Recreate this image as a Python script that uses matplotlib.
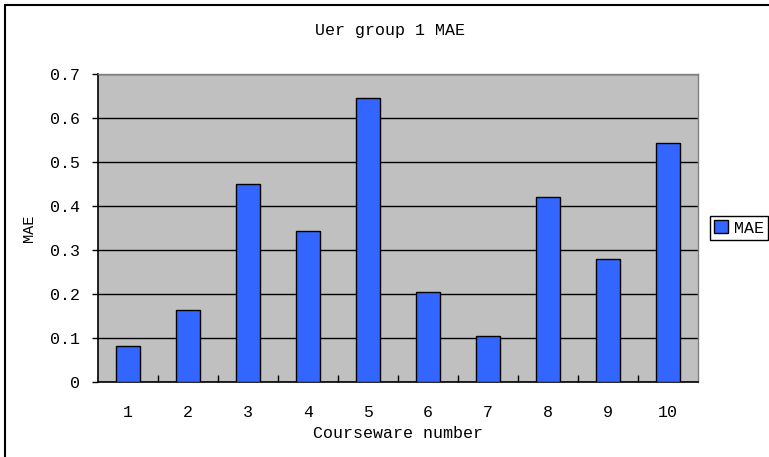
import matplotlib
matplotlib.use("Agg")
import matplotlib.pyplot as plt
from matplotlib.patches import Rectangle
import numpy as np

categories = ["1", "2", "3", "4", "5", "6", "7", "8", "9", "10"]
mae_values = [0.082, 0.162, 0.449, 0.343, 0.645, 0.203, 0.103, 0.421, 0.278, 0.543]
y_ticks = [0, 0.1, 0.2, 0.3, 0.4, 0.5, 0.6, 0.7]
y_tick_labels = ["0", "0.1", "0.2", "0.3", "0.4", "0.5", "0.6", "0.7"]

W, H = 769, 457
plt.rcParams['font.family'] = ['Liberation Mono', 'DejaVu Sans']
fig = plt.figure(figsize=(W / 100, H / 100), dpi=100)
fig.patch.set_facecolor('white')

left, right, top, bottom = 97.7, 697.7, 74.0, 381.7
ax = fig.add_axes([left / W, (H - bottom) / H, (right - left) / W, (bottom - top) / H])
ax.set_facecolor('#C0C0C0')

x = np.arange(len(categories))
ax.bar(x, mae_values, width=0.4, color='#3366FF', edgecolor='black', linewidth=1.0,
       label='MAE', zorder=3)

ax.set_xlim(-0.5, len(categories) - 0.5)
ax.set_ylim(0, 0.7)
ax.set_yticks(y_ticks)
ax.set_yticklabels(y_tick_labels, fontsize=12)
ax.set_xticks(x)
ax.set_xticklabels(categories, fontsize=12)
ax.set_xticks(np.arange(0.5, len(categories) - 0.5, 1.0), minor=True)
ax.tick_params(axis='x', which='major', length=0, pad=17)
ax.tick_params(axis='x', which='minor', direction='in', length=5, width=1, color='black')
ax.tick_params(axis='y', which='major', direction='out', length=4, width=1, pad=9)

ax.yaxis.grid(True, color='black', linewidth=1.0, zorder=1)
ax.set_axisbelow(True)

for s in ['top', 'right']:
    ax.spines[s].set_color('#808080')
    ax.spines[s].set_linewidth(1.0)
for s in ['left', 'bottom']:
    ax.spines[s].set_color('black')
    ax.spines[s].set_linewidth(1.2)

ax.set_xlabel('Courseware number', fontsize=12, labelpad=4)
ax.set_ylabel('MAE', fontsize=11, labelpad=10)
fig.text(390 / W, 1 - 30 / H, 'Uer group 1 MAE', ha='center', va='center', fontsize=12)

leg = ax.legend(loc='center left', bbox_to_anchor=(710 / W, 1 - 228 / H),
                bbox_transform=fig.transFigure, fontsize=12, fancybox=False,
                edgecolor='black', framealpha=1, handlelength=0.8, handleheight=0.8,
                handletextpad=0.4, borderpad=0.25, borderaxespad=0)
leg.get_frame().set_linewidth(1.0)

fig.add_artist(Rectangle((4.5 / W, -0.1), 2.0, 1 - 5.5 / H + 0.1, transform=fig.transFigure,
                         fill=False, edgecolor='black', linewidth=1.5))

fig.savefig('out.png', dpi=100)
